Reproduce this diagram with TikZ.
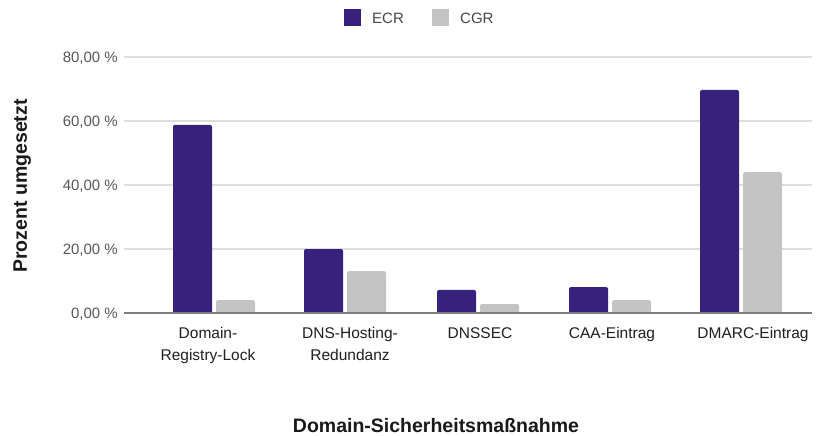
\documentclass[tikz,border=0pt]{standalone}
\usepackage{fontspec}
\setmainfont{Liberation Sans}
\definecolor{ecrpurple}{RGB}{54,34,124}
\definecolor{cgrgray}{RGB}{196,196,196}
\definecolor{gridgray}{RGB}{222,222,222}
\definecolor{axisgray}{RGB}{128,128,128}
\definecolor{ticktext}{RGB}{88,88,88}

\begin{document}
\begin{tikzpicture}[x=1pt, y=-1pt,
  gridline/.style={draw=gridgray, line width=1.2pt},
  baseline/.style={draw=axisgray, line width=1.6pt},
  ticklabel/.style={anchor=base east, inner sep=0pt, text=ticktext, font=\fontsize{15}{18}\selectfont},
  catlabel/.style={anchor=north, align=center, inner sep=0pt, text=black!88, font=\fontsize{15.5}{22}\selectfont},
  keylabel/.style={anchor=base west, inner sep=0pt, text=black!72, font=\fontsize{15}{18}\selectfont},
  swatch/.style={minimum size=17pt, inner sep=0pt},
  axistitle/.style={anchor=base, inner sep=0pt, text=black!90, font=\bfseries\fontsize{19.5}{24}\selectfont}]

\useasboundingbox[fill=white] (0,0) rectangle (825,436);

% legend
\node [swatch, fill=ecrpurple] (keyecr) at (352,18) {};
\node [keylabel] (labecr) at (372,24) {ECR};
\node [swatch, fill=cgrgray] (keycgr) at (440,18) {};
\node [keylabel] (labcgr) at (460,24) {CGR};

% value axis: 0 at y=313, 3.2 per percent
\begin{scope}[shift={(0,313)}, y=3.2pt]
\draw [gridline] (124,80) -- (812,80);
\draw [gridline] (124,60) -- (812,60);
\draw [gridline] (124,40) -- (812,40);
\draw [gridline] (124,20) -- (812,20);
\node [ticklabel] (t80) at (118,80) [yshift=-5.3pt] {80,00 \%};
\node [ticklabel] (t60) at (118,60) [yshift=-5.3pt] {60,00 \%};
\node [ticklabel] (t40) at (118,40) [yshift=-5.3pt] {40,00 \%};
\node [ticklabel] (t20) at (118,20) [yshift=-5.3pt] {20,00 \%};
\node [ticklabel] (t0) at (118,0) [yshift=-5.3pt] {0,00 \%};

% bars, ECR left / CGR right
\fill [ecrpurple] (173,0) [rounded corners=2pt] -- (173,58.8) -- (212,58.8) [sharp corners] -- (212,0) -- cycle;
\fill [cgrgray] (216,0) [rounded corners=2pt] -- (216,4.0) -- (255,4.0) [sharp corners] -- (255,0) -- cycle;
\fill [ecrpurple] (304,0) [rounded corners=2pt] -- (304,20.0) -- (343,20.0) [sharp corners] -- (343,0) -- cycle;
\fill [cgrgray] (347,0) [rounded corners=2pt] -- (347,13.1) -- (386,13.1) [sharp corners] -- (386,0) -- cycle;
\fill [ecrpurple] (437,0) [rounded corners=2pt] -- (437,7.2) -- (476,7.2) [sharp corners] -- (476,0) -- cycle;
\fill [cgrgray] (480,0) [rounded corners=2pt] -- (480,2.8) -- (519,2.8) [sharp corners] -- (519,0) -- cycle;
\fill [ecrpurple] (569,0) [rounded corners=2pt] -- (569,8.1) -- (608,8.1) [sharp corners] -- (608,0) -- cycle;
\fill [cgrgray] (612,0) [rounded corners=2pt] -- (612,4.0) -- (651,4.0) [sharp corners] -- (651,0) -- cycle;
\fill [ecrpurple] (700,0) [rounded corners=2pt] -- (700,69.7) -- (739,69.7) [sharp corners] -- (739,0) -- cycle;
\fill [cgrgray] (743,0) [rounded corners=2pt] -- (743,44.0) -- (782,44.0) [sharp corners] -- (782,0) -- cycle;

\draw [baseline] (124,0) -- (812,0);
\end{scope}

% categories
\node [catlabel] (c1) at (208,327) {Domain-\\Registry-Lock};
\node [catlabel] (c2) at (350,327) {DNS-Hosting-\\Redundanz};
\node [catlabel] (c3) at (480,327) {DNSSEC};
\node [catlabel] (c4) at (612,327) {CAA-Eintrag};
\node [catlabel] (c5) at (753,327) {DMARC-Eintrag};

% axis titles
\node [axistitle, rotate=90] (ytitle) at (27,186) {Prozent umgesetzt};
\node [axistitle] (xtitle) at (436,432) {Domain-Sicherheitsmaßnahme};
\end{tikzpicture}
\end{document}
